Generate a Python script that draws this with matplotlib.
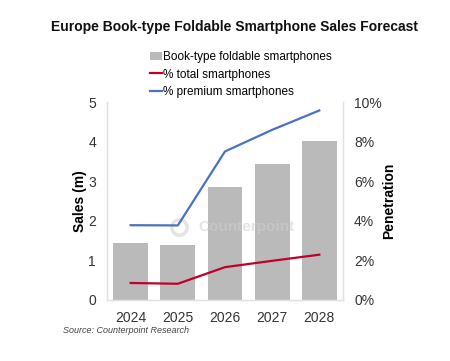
import matplotlib
matplotlib.use("Agg")
from matplotlib import pyplot as plt
from matplotlib.ticker import PercentFormatter

plt.rcParams["font.family"] = ["Liberation Sans", "DejaVu Sans"]

years = ["2024", "2025", "2026", "2027", "2028"]
sales_m = [1.43, 1.40, 2.86, 3.44, 4.02]
pct_total = [0.86, 0.82, 1.66, 1.98, 2.29]
pct_premium = [3.78, 3.77, 7.51, 8.60, 9.58]

BAR_GREY = "#bababa"
RED = "#c0002a"
BLUE = "#4a72c0"
SPINE = "#e2e2e2"
TEXT = "#333333"

fig = plt.figure(figsize=(4.5, 3.61), dpi=100)
ax = fig.add_axes([0.238, 0.169, 0.524, 0.548])
ax2 = ax.twinx()

x = range(len(years))
bars = ax.bar(x, sales_m, width=0.74, color=BAR_GREY, zorder=1,
              label="Book-type foldable smartphones")
l1, = ax2.plot(x, pct_total, color=RED, lw=1.6, zorder=3, label="% total smartphones")
l2, = ax2.plot(x, pct_premium, color=BLUE, lw=1.6, zorder=3, label="% premium smartphones")

ax.set_xlim(-0.5, len(years) - 0.5)
ax.set_ylim(0, 5)
ax2.set_ylim(0, 10)
ax.set_xticks(list(x))
ax.set_xticklabels(years)
ax.set_yticks(range(0, 6))
ax2.set_yticks(range(0, 11, 2))
ax2.yaxis.set_major_formatter(PercentFormatter(decimals=0))

for a in (ax, ax2):
    a.spines["top"].set_visible(False)
    for s in ("left", "right", "bottom"):
        a.spines[s].set_color(SPINE)
        a.spines[s].set_linewidth(0.9)
    a.tick_params(axis="both", length=0, labelsize=10, colors=TEXT, pad=8)

ax.set_ylabel("Sales (m)", fontsize=10, fontweight="bold", labelpad=1)
ax2.set_ylabel("Penetration", fontsize=10, fontweight="bold", labelpad=0)

# faint watermark, drawn above the bars but under the lines
ax2.text(0.59, 0.37, "Counterpoint", transform=ax.transAxes, fontsize=11,
         fontweight="bold", color="#cfcfcf", alpha=0.55, ha="center",
         va="center", zorder=1)
ax2.plot([0.305], [0.37], transform=ax.transAxes, marker="o", ms=11,
         mfc="none", mec="#cfcfcf", mew=2.5, alpha=0.55, zorder=1)

fig.text(0.521, 0.925, "Europe Book-type Foldable Smartphone Sales Forecast",
         ha="center", va="center", fontsize=10, fontweight="bold", color="#111111")

fig.legend(handles=[bars, l1, l2], loc="upper left",
           bbox_to_anchor=(0.333, 0.858), frameon=False, fontsize=8.5,
           handlelength=1.0, handletextpad=0.1, labelspacing=0.45,
           borderaxespad=0, borderpad=0)

fig.text(0.14, 0.085, "Source: Counterpoint Research", fontsize=6.5,
         style="italic", color="#444444", ha="left", va="center")

fig.savefig("out.png", dpi=100, facecolor="white")
